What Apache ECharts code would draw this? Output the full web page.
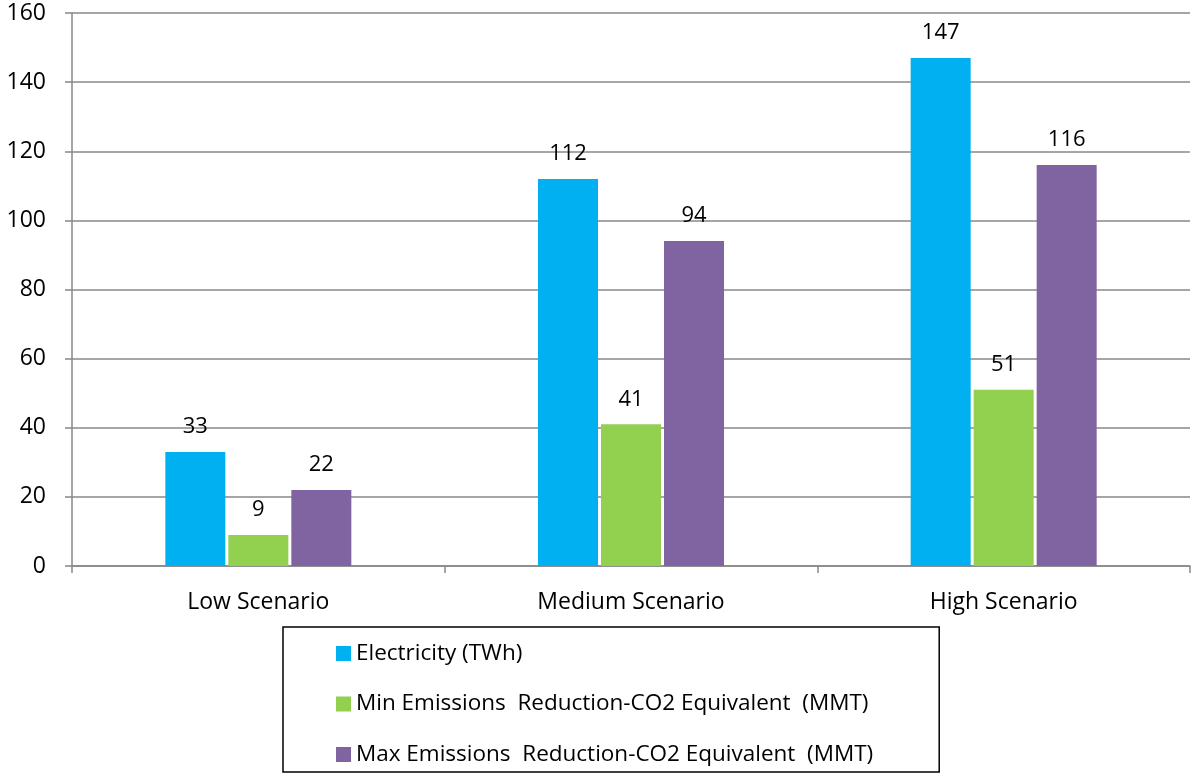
<!DOCTYPE html>
<html>
<head>
<meta charset="utf-8">
<script src="https://cdn.jsdelivr.net/npm/echarts@6/dist/echarts.min.js"></script>
<style>
  html, body { margin: 0; padding: 0; background: #fff; }
  #chart { width: 1192px; height: 777px; }
</style>
</head>
<body>
<div id="chart"></div>
<script>
// Scenario categories and the three measured series
const scenarios = ['Low Scenario', 'Medium Scenario', 'High Scenario'];
const electricity = [33, 112, 147];
const minEmissions = [9, 41, 51];
const maxEmissions = [22, 94, 116];
const seriesNames = [
  'Electricity (TWh)',
  'Min Emissions  Reduction-CO2 Equivalent  (MMT)',
  'Max Emissions  Reduction-CO2 Equivalent  (MMT)'
];
const colors = ['#00B0F0', '#92D050', '#8064A2'];

const FONT = '"Open Sans", sans-serif';
const chart = echarts.init(document.getElementById('chart'));

function barSeries(name, data, color) {
  return {
    name: name,
    type: 'bar',
    data: data,
    barWidth: 60,
    barGap: '5%',
    itemStyle: { color: color },
    label: {
      show: true,
      position: 'top',
      distance: 14,
      color: '#000',
      fontFamily: FONT,
      fontSize: 22
    }
  };
}

chart.setOption({
  animation: false,
  color: colors,
  grid: { left: 72, right: 2, top: 13, bottom: 211, containLabel: false },
  xAxis: {
    type: 'category',
    data: scenarios,
    axisLine: { lineStyle: { color: '#888', width: 1.5 } },
    axisTick: { show: true, length: 7, lineStyle: { color: '#888', width: 1.5 } },
    axisLabel: { color: '#000', fontFamily: FONT, fontSize: 23, margin: 25 }
  },
  yAxis: {
    type: 'value',
    min: 0,
    max: 160,
    interval: 20,
    axisLine: { show: true, lineStyle: { color: '#888', width: 1.5 } },
    axisTick: { show: true, length: 7, lineStyle: { color: '#888', width: 1.5 } },
    splitLine: { lineStyle: { color: '#888', width: 1.5 } },
    axisLabel: { color: '#000', fontFamily: FONT, fontSize: 23, margin: 26 }
  },
  legend: {
    orient: 'vertical',
    left: 283,
    top: 627,
    height: 400,
    itemWidth: 15,
    itemHeight: 15,
    itemGap: 27.5,
    padding: [15, 66, 6, 53],
    borderColor: '#000',
    borderWidth: 1.5,
    icon: 'rect',
    textStyle: { color: '#000', fontFamily: FONT, fontSize: 22.5 },
    data: seriesNames
  },
  series: [
    barSeries(seriesNames[0], electricity, colors[0]),
    barSeries(seriesNames[1], minEmissions, colors[1]),
    barSeries(seriesNames[2], maxEmissions, colors[2])
  ]
});
</script>
</body>
</html>
